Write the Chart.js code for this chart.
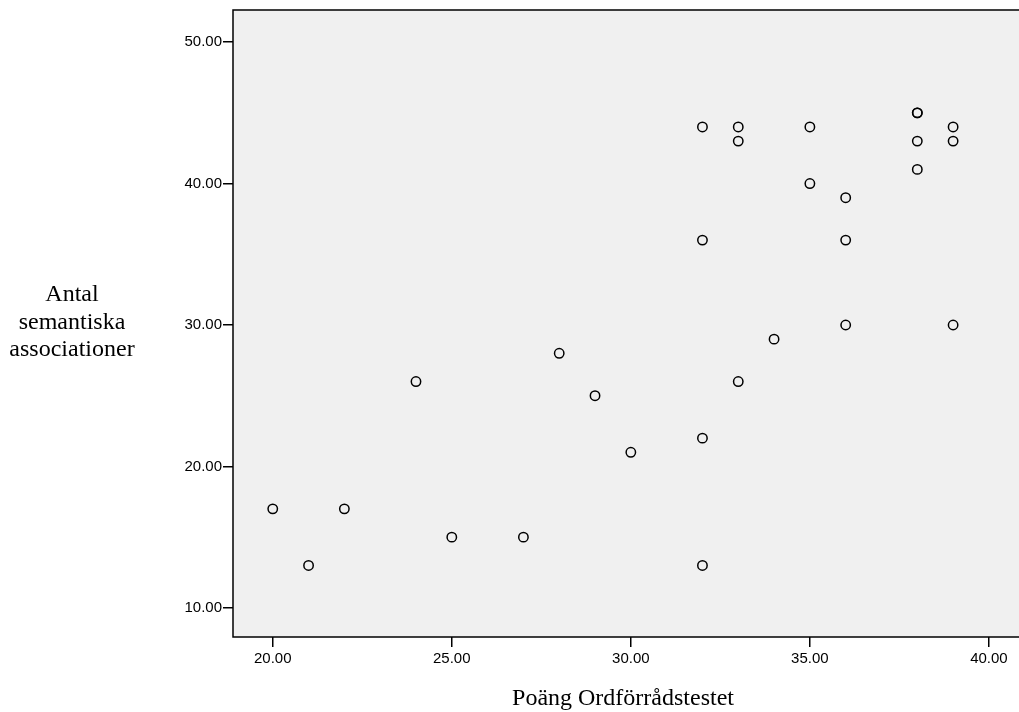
<!DOCTYPE html>
<html>
<head>
<meta charset="utf-8">
<script src="https://cdn.jsdelivr.net/npm/chart.js@4.4.0/dist/chart.umd.min.js"></script>
<style>
  html, body { margin: 0; padding: 0; background: #fff; overflow: hidden; }
  #wrap { width: 1019px; height: 712px; }
</style>
</head>
<body>
<div id="wrap"><canvas id="chart"></canvas></div>
<script>
// scores
var vocabScore = [20, 21, 22, 24, 25, 27, 28, 29, 30, 32, 32, 32, 32, 33, 33, 33, 34, 35, 35, 36, 36, 36, 38, 38, 38, 38, 39, 39, 39];
var assocCount = [17, 13, 17, 26, 15, 15, 28, 25, 21, 44, 36, 22, 13, 44, 43, 26, 29, 44, 40, 39, 36, 30, 45, 45, 43, 41, 44, 43, 30];
var xTicks = [20, 25, 30, 35, 40];
var yTicks = [10, 20, 30, 40, 50];
var xTitle = 'Poäng Ordförrådstestet';
var yTitle = ['Antal', 'semantiska', 'associationer'];

var points = [];
for (let i = 0; i < vocabScore.length; i++) {
    points.push({ x: vocabScore[i], y: assocCount[i] });
}

// grey plot background, frame and the two axis titles
var framePlugin = {
    id: 'frame',
    beforeDraw: function(chart) {
        const a = chart.chartArea;
        const ctx = chart.ctx;
        ctx.save();
        ctx.fillStyle = '#f0f0f0';
        ctx.fillRect(a.left, a.top, a.right - a.left, a.bottom - a.top);
        ctx.restore();
    },
    afterDraw: function(chart) {
        const a = chart.chartArea;
        const ctx = chart.ctx;
        ctx.save();
        ctx.strokeStyle = '#000';
        ctx.lineWidth = 1.5;
        ctx.strokeRect(a.left, a.top, a.right - a.left + 2, a.bottom - a.top);
        ctx.fillStyle = '#000';
        ctx.font = '24px "Liberation Serif", serif';
        ctx.textAlign = 'center';
        ctx.textBaseline = 'alphabetic';
        ctx.fillText(xTitle, 623, 705);
        for (let i = 0; i < yTitle.length; i++) {
            ctx.fillText(yTitle[i], 72, 301 + i * 27.5);
        }
        ctx.restore();
    }
};

function fixedTicks(values) {
    return function(scale) {
        scale.ticks = values.map(v => ({ value: v }));
    };
}

new Chart(document.getElementById('chart'), {
    type: 'scatter',
    data: {
        datasets: [{
            data: points,
            pointStyle: 'circle',
            pointRadius: 4.7,
            pointHoverRadius: 4.7,
            pointBorderWidth: 1.5,
            pointBorderColor: '#000',
            pointBackgroundColor: 'rgba(0,0,0,0)'
        }]
    },
    options: {
        responsive: true,
        maintainAspectRatio: false,
        animation: false,
        layout: { autoPadding: false, padding: { top: 10, right: 0, left: 0, bottom: 0 } },
        plugins: {
            legend: { display: false },
            tooltip: { enabled: false }
        },
        scales: {
            x: {
                type: 'linear',
                min: 18.89,
                max: 40.84,
                afterBuildTicks: fixedTicks(xTicks),
                afterFit: function(s) { s.height = 75; s.paddingLeft = 0; s.paddingRight = 0; },
                grid: { drawOnChartArea: false, tickLength: 10, color: '#000', lineWidth: 1.5 },
                border: { display: false },
                ticks: {
                    color: '#000',
                    padding: 3,
                    maxRotation: 0,
                    font: { family: '"Liberation Sans", Arial, sans-serif', size: 15 },
                    callback: v => v.toFixed(2)
                }
            },
            y: {
                type: 'linear',
                min: 7.94,
                max: 52.27,
                afterBuildTicks: fixedTicks(yTicks),
                afterFit: function(s) { s.width = 233; s.paddingTop = 0; s.paddingBottom = 0; },
                grid: { drawOnChartArea: false, tickLength: 10, color: '#000', lineWidth: 1.5 },
                border: { display: false },
                ticks: {
                    color: '#000',
                    padding: 1,
                    font: { family: '"Liberation Sans", Arial, sans-serif', size: 15 },
                    callback: v => v.toFixed(2)
                }
            }
        }
    },
    plugins: [framePlugin]
});
</script>
</body>
</html>
